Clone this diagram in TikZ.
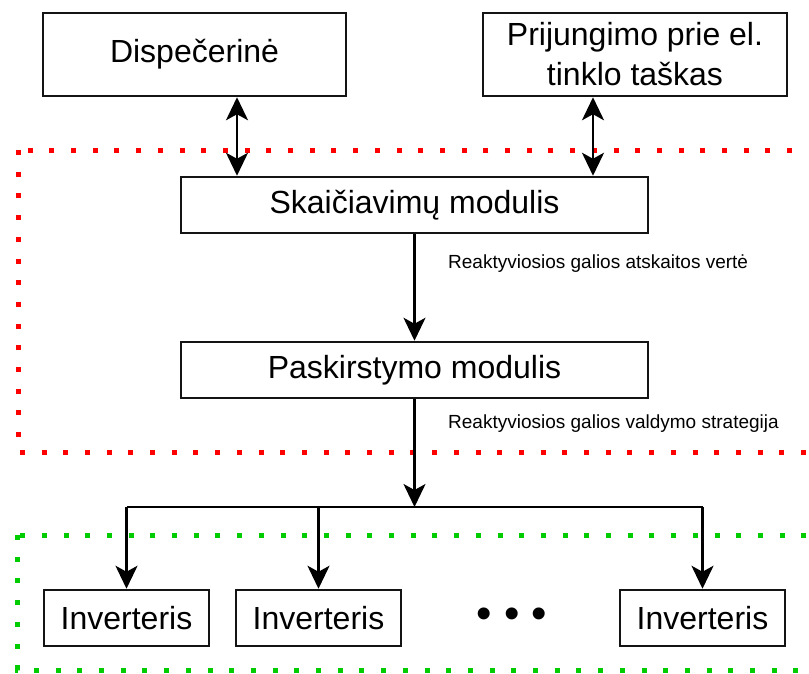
\documentclass[tikz,border=0pt]{standalone}
\usepackage{fontspec}
\setmainfont{Liberation Sans}
\usepackage{tikz}
\usetikzlibrary{positioning,arrows.meta}
\definecolor{dpRed}{RGB}{255,0,0}
\definecolor{dpGreen}{RGB}{0,204,0}
\definecolor{dpGray}{RGB}{20,20,20}

\begin{document}
\begin{tikzpicture}[x=1pt, y=-1pt,
  box/.style={draw=dpGray, line width=2.5pt, inner sep=0pt, align=center, font=\fontsize{32}{40}\selectfont},
  link/.style={line width=2.2pt, -{Stealth[length=23pt, width=22pt, inset=6pt]}},
  biarrow/.style={line width=2.2pt, {Stealth[length=23pt, width=22pt, inset=6pt]}-{Stealth[length=23pt, width=22pt, inset=6pt]}},
  zone/.style={line width=5pt, dash pattern=on 5pt off 16.7pt},
  note/.style={anchor=base west, inner sep=0pt, font=\fontsize{19}{23}\selectfont}]
  \useasboundingbox (0,0) rectangle (809,673);
  \clip (0,0) rectangle (809,673);

  % Dotted zones
  \draw[zone, dpRed] (18,150) rectangle (830,452);
  \draw[zone, dpGreen] (17,535) rectangle (830,670);

  % Top level
  \node[box, minimum width=303pt, minimum height=83pt] (disp) at (194.5,54.5) {Dispečerinė};
  \node[box, minimum width=304pt, minimum height=83pt] (tinklas) at (635,54.5) {Prijungimo prie el.\\tinklo taškas};

  % Modules
  \node[box, minimum width=467pt, minimum height=56pt] (skaic) at (414.5,205) {Skaičiavimų modulis};
  \node[box, minimum width=467pt, minimum height=56pt] (pask) at (414.5,370) {Paskirstymo modulis};
  \node[note] (atsk) at (448,268) {Reaktyviosios galios atskaitos vertė};
  \node[note] (strat) at (448,428) {Reaktyviosios galios valdymo strategija};

  % Inverters
  \foreach \n/\x in {1/126.5, 2/318.5, 3/702.5}
    \node[box, minimum width=165pt, minimum height=56pt] (inv\n) at (\x,618) {Inverteris};
  \node[font=\fontsize{44}{44}\selectfont] (dots) at (512,618) {• • •};

  % Links
  \draw[biarrow] ([xshift=42.5pt]disp.south) -- ([xshift=42.5pt]disp.south |- skaic.north);
  \draw[biarrow] ([xshift=-42pt]tinklas.south) -- ([xshift=-42pt]tinklas.south |- skaic.north);
  \draw[link] (skaic) -- (pask);
  \coordinate (bus) at (414.5,507);
  \draw[link] (pask) -- (bus);
  \draw[line width=2.2pt] (inv1.north |- bus) -- (inv3.north |- bus);
  \foreach \n in {1,2,3}
    \draw[link] (inv\n.north |- bus) -- (inv\n.north);
\end{tikzpicture}
\end{document}
